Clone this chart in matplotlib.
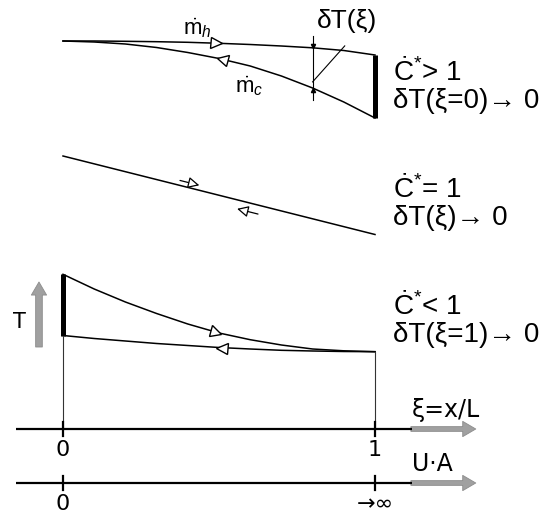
import numpy as np
import matplotlib
matplotlib.use("Agg")
import matplotlib.pyplot as plt
from matplotlib.patches import FancyArrowPatch, ArrowStyle
from matplotlib.markers import MarkerStyle
from matplotlib.transforms import Affine2D

plt.rcParams["mathtext.fontset"] = "custom"
plt.rcParams["mathtext.rm"] = "Liberation Sans"
plt.rcParams["mathtext.it"] = "Liberation Sans:italic"

# Dimensionless position along the exchanger
xi = np.linspace(0.0, 1.0, 11)

# Case C* > 1 : temperature level of hot and cold stream (diagram height units)
top_hot = [476, 476, 475.7, 475.3, 474.7, 473.7, 472.5, 471, 469.2, 466.5, 462]
top_cold = [476, 475, 473, 469.5, 464.5, 458.5, 451, 441, 429, 415, 399]

# Case C* = 1 : both streams run parallel on one straight line
mid_xi = [0.0, 1.0]
mid_line = [361, 282.5]

# Case C* < 1
bot_hot = [242.7, 228, 215, 203.5, 193, 184, 177.3, 172, 168, 166.2, 165.3]
bot_cold = [181.5, 178.5, 176, 173.5, 171.5, 169.5, 168, 166.7, 166, 165.5, 165.3]

# Flow-direction arrows (position along xi)
arrow_hot_xi = 0.49
arrow_cold_xi = 0.51
delta_xi = 0.80

# Abscissa levels
xi_axis_level = 88
ua_axis_level = 34
xi_ticks = [0, 1]
xi_ticklabels = ["0", "1"]
ua_ticklabels = ["0", "→∞"]

case_labels = [
    ("Ċ$^{*}$> 1", "δT(ξ=0)→ 0"),
    ("Ċ$^{*}$= 1", "δT(ξ)→ 0"),
    ("Ċ$^{*}$< 1", "δT(ξ=1)→ 0"),
]
case_label_levels = [(437, 409), (320, 292), (203, 175)]

fig = plt.figure(figsize=(5.44, 5.17), dpi=100)
ax = fig.add_axes([0, 0, 1, 1])
ax.set_xlim(-63 / 312, 481 / 312)
ax.set_ylim(0, 517)
ax.axis("off")

LW = 1.1
SANS = ["Liberation Sans", "DejaVu Sans"]


def curve_arrow(xs, ys, at, direction):
    """Open triangular flow marker sitting on a curve, aligned with its slope."""
    y0 = np.interp(at, xs, ys)
    d = 0.01
    p1 = ax.transData.transform((at - d, np.interp(at - d, xs, ys)))
    p2 = ax.transData.transform((at + d, np.interp(at + d, xs, ys)))
    ang = np.degrees(np.arctan2(p2[1] - p1[1], p2[0] - p1[0]))
    m = MarkerStyle(">" if direction > 0 else "<",
                    transform=Affine2D().rotate_deg(ang))
    ax.plot([at], [y0], marker=m, ms=8, mfc="white", mec="black",
            mew=1.0, zorder=5)


# ---- C* > 1 ----
ax.plot(xi, top_hot, color="black", lw=LW)
ax.plot(xi, top_cold, color="black", lw=LW)
ax.plot([1, 1], [top_hot[-1], top_cold[-1]], color="black", lw=3.6,
        solid_capstyle="butt")
curve_arrow(xi, top_hot, arrow_hot_xi, +1)
curve_arrow(xi, top_cold, arrow_cold_xi, -1)

# temperature difference marker
yh = np.interp(delta_xi, xi, top_hot)
yc = np.interp(delta_xi, xi, top_cold)
ax.plot([delta_xi, delta_xi], [yh + 12, yc - 12], color="black", lw=0.8)
ax.plot([delta_xi], [yh + 1.5], marker="v", ms=3, color="black")
ax.plot([delta_xi], [yc - 1.5], marker="^", ms=3, color="black")
ax.plot([delta_xi, delta_xi + 0.103], [(yh + yc) / 2 - 14, (yh + yc) / 2 + 22],
        color="black", lw=0.8)
ax.text(0.815, 496, "δT(ξ)", fontsize=19, family=SANS, ha="left",
        va="center")
ax.text(0.432, 489, r"$\dot{\mathrm{m}}_{h}$", fontsize=16, ha="center",
        va="center")
ax.text(0.598, 431, r"$\dot{\mathrm{m}}_{c}$", fontsize=16, ha="center",
        va="center")

# ---- C* = 1 ----
ax.plot(mid_xi, mid_line, color="black", lw=LW)


def offset_arrow(a, b, off):
    ya = np.interp(a, mid_xi, mid_line) + off
    yb = np.interp(b, mid_xi, mid_line) + off
    ax.add_patch(FancyArrowPatch((a, ya), (b, yb), arrowstyle="-|>",
                                 mutation_scale=17, fc="white", ec="black",
                                 lw=0.9, shrinkA=0, shrinkB=0, zorder=5))


offset_arrow(0.375, 0.437, 5)
offset_arrow(0.625, 0.558, -9)

# ---- C* < 1 ----
ax.plot(xi, bot_hot, color="black", lw=LW)
ax.plot(xi, bot_cold, color="black", lw=LW)
ax.plot([0, 0], [bot_hot[0], bot_cold[0]], color="black", lw=3.6,
        solid_capstyle="butt")
curve_arrow(xi, bot_hot, arrow_hot_xi, +1)
curve_arrow(xi, bot_cold, arrow_cold_xi, -1)
ax.plot([0, 0], [bot_cold[0], xi_axis_level], color="#333333", lw=0.8)
ax.plot([1, 1], [bot_cold[-1], xi_axis_level], color="#333333", lw=0.8)

# temperature direction arrow
ax.add_patch(FancyArrowPatch((-0.077, 170), (-0.077, 235),
                             arrowstyle=ArrowStyle("simple", head_length=0.47,
                                                   head_width=0.55,
                                                   tail_width=0.24),
                             mutation_scale=20, fc="#a0a0a0", ec="#8c8c8c",
                             lw=0.6, shrinkA=0, shrinkB=0))
ax.text(-0.141, 195.5, "T", fontsize=15, family="DejaVu Sans", ha="center",
        va="center")

# case descriptions
for (l1, l2), (h1, h2) in zip(case_labels, case_label_levels):
    ax.text(1.058, h1, l1, fontsize=20, family=SANS, ha="left",
            va="baseline")
    ax.text(1.058, h2, l2, fontsize=20, family=SANS, ha="left",
            va="baseline")

# ---- abscissas ----
gray_style = ArrowStyle("simple", head_length=0.47, head_width=0.55,
                        tail_width=0.17)
for level, labels, name in [(xi_axis_level, xi_ticklabels, "ξ=x/L"),
                            (ua_axis_level, ua_ticklabels, "U·A")]:
    ax.plot([-0.1506, 1.119], [level, level], color="black", lw=1.6,
            solid_capstyle="butt")
    ax.add_patch(FancyArrowPatch((1.115, level), (1.323, level),
                                 arrowstyle=gray_style, mutation_scale=20,
                                 fc="#a0a0a0", ec="#8c8c8c", lw=0.6,
                                 shrinkA=0, shrinkB=0))
    for t in xi_ticks:
        ax.plot([t, t], [level - 7, level + 7], color="black", lw=1.6)
    ax.text(1.119, level + 12, name, fontsize=17, family="DejaVu Sans",
            ha="left", va="baseline")
    for t, lab in zip(xi_ticks, labels):
        ax.text(t, level - 11, lab, fontsize=16, family="DejaVu Sans",
                ha="center", va="top")

fig.savefig("out.png", dpi=100)
